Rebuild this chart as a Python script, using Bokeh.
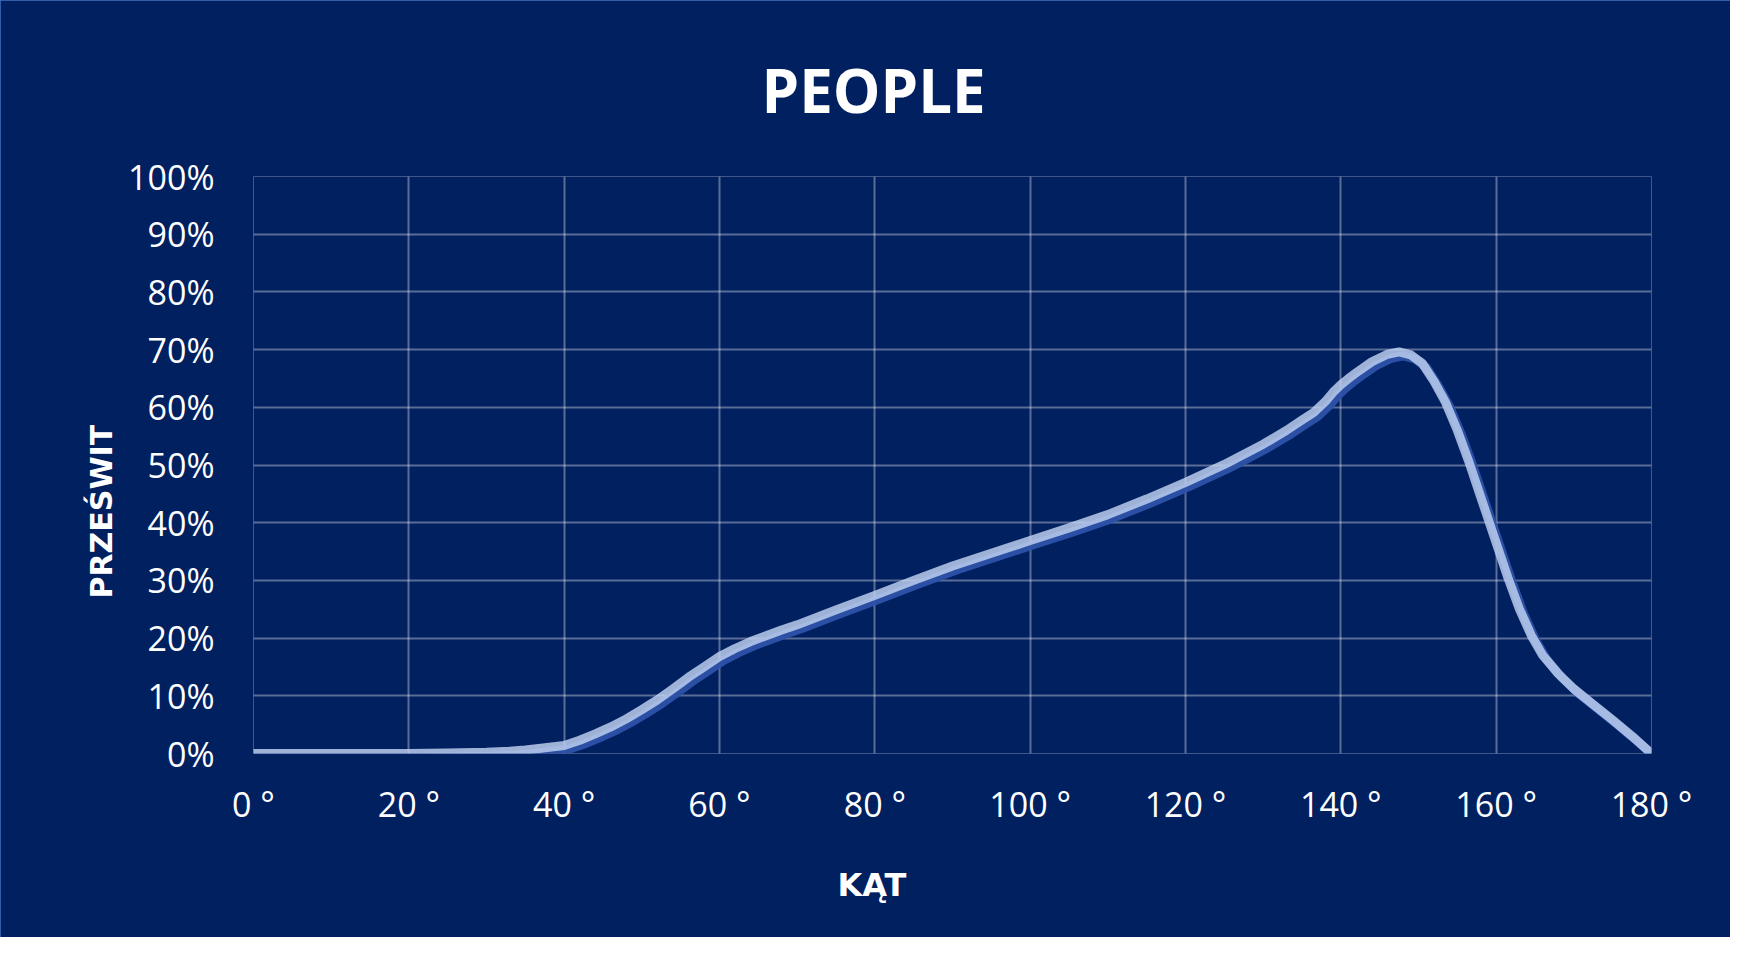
from bokeh.plotting import figure
from bokeh.embed import file_html
from bokeh.resources import INLINE
from bokeh.models import Range1d, FixedTicker, ColumnDataSource, Title

# ---- data ----
angle_deg = [0, 10, 20, 25, 30, 33, 35, 37, 40, 42, 44, 46, 48, 50, 52, 54, 56, 58,
             60, 62, 64, 66, 68, 70, 75, 80, 85, 90, 95, 100, 105, 110, 115, 120,
             125, 130, 133, 135, 136.5, 138, 139, 140, 141, 142, 144, 146, 147.5, 149,
             150.5, 152, 153.5, 155, 156.5, 158, 159, 160.5, 161.5, 163, 164.5, 166,
             168, 170, 172.5, 175, 177.5, 180]
przeswit = [0.0, 0.0, 0.0, 0.001, 0.002, 0.004, 0.006, 0.009, 0.014, 0.023, 0.034,
            0.046, 0.060, 0.076, 0.093, 0.112, 0.132, 0.150, 0.168, 0.182, 0.194,
            0.204, 0.214, 0.223, 0.249, 0.274, 0.300, 0.325, 0.347, 0.369, 0.391,
            0.414, 0.441, 0.470, 0.501, 0.536, 0.560, 0.578, 0.591, 0.610, 0.626,
            0.639, 0.650, 0.660, 0.679, 0.692, 0.696, 0.691, 0.676, 0.645, 0.608,
            0.560, 0.505, 0.445, 0.405, 0.345, 0.305, 0.250, 0.205, 0.170, 0.138,
            0.112, 0.085, 0.058, 0.030, 0.0]

x_ticks = [0, 20, 40, 60, 80, 100, 120, 140, 160, 180]
x_tick_labels = ["0 °", "20 °", "40 °", "60 °", "80 °", "100 °", "120 °", "140 °", "160 °", "180 °"]
y_ticks = [0.0, 0.1, 0.2, 0.3, 0.4, 0.5, 0.6, 0.7, 0.8, 0.9, 1.0]
y_tick_labels = ["0%", "10%", "20%", "30%", "40%", "50%", "60%", "70%", "80%", "90%", "100%"]

title_text = "PEOPLE"
x_title = "KĄT"
y_title = "PRZEŚWIT"

BG = "#002060"

source = ColumnDataSource(data=dict(x=angle_deg, y=przeswit))

p = figure(width=1730, height=937, output_backend="svg", toolbar_location=None,
           x_range=Range1d(0, 180), y_range=Range1d(0, 1),
           min_border_left=253, min_border_right=79, min_border_top=176,
           min_border_bottom=184, title=title_text)

p.background_fill_color = BG
p.border_fill_color = BG
p.outline_line_color = None
p.styles = {"outline": "3px solid #4472C4", "outline-offset": "-3px"}

xaxis = p.below[0]
yaxis = p.left[0]

# main title, placed so it is centred on the whole chart
p.title.text_font = "Open Sans"
p.title.text_font_style = "bold"
p.title.text_font_size = "60px"
p.title.text_color = "white"
p.title.align = "left"
p.title.offset = 508
p.title.standoff = 92

# soft shadow: same series drawn through slightly shifted ranges (right and down)
p.extra_x_ranges = {"shadow": Range1d(-4 / 7.767, 180 - 4 / 7.767)}
p.extra_y_ranges = {"shadow": Range1d(4 / 577, 1 + 4 / 577)}

p.line("x", "y", source=source, x_range_name="shadow", y_range_name="shadow",
       line_color="#2D52A8", line_alpha=0.95, line_width=9, line_join="round", line_cap="round")
p.line("x", "y", source=source, line_color="#C6D6F4", line_alpha=0.8,
       line_width=9, line_join="round", line_cap="round")

# axes
for ax in (xaxis, yaxis):
    ax.axis_line_color = None
    ax.major_tick_line_color = None
    ax.minor_tick_line_color = None
    ax.major_tick_out = 0
    ax.major_tick_in = 0
    ax.minor_tick_out = 0
    ax.minor_tick_in = 0
    ax.major_label_text_color = "white"
    ax.major_label_text_font = "Open Sans"
    ax.major_label_text_font_size = "34px"

xaxis.ticker = FixedTicker(ticks=x_ticks)
xaxis.major_label_overrides = {t: l for t, l in zip(x_ticks, x_tick_labels)}
xaxis.major_label_standoff = 27

yaxis.ticker = FixedTicker(ticks=y_ticks)
yaxis.major_label_overrides = {t: l for t, l in zip(y_ticks, y_tick_labels)}
yaxis.major_label_standoff = 39

# axis titles
ty = Title(text=y_title, align="left", offset=155, standoff=13,
           text_font="DejaVu Sans", text_font_style="bold", text_font_size="30px",
           text_color="white")
p.add_layout(ty, "left")
tx = Title(text=x_title, align="left", offset=584, standoff=68,
           text_font="DejaVu Sans", text_font_style="bold", text_font_size="32px",
           text_color="white")
p.add_layout(tx, "below")

# grid
for g in (p.xgrid[0], p.ygrid[0]):
    g.grid_line_color = "white"
    g.grid_line_alpha = 0.35
    g.grid_line_width = 2
p.xgrid[0].ticker = FixedTicker(ticks=x_ticks)
p.ygrid[0].ticker = FixedTicker(ticks=y_ticks)

open("out.html", "w").write(file_html(p, INLINE))
